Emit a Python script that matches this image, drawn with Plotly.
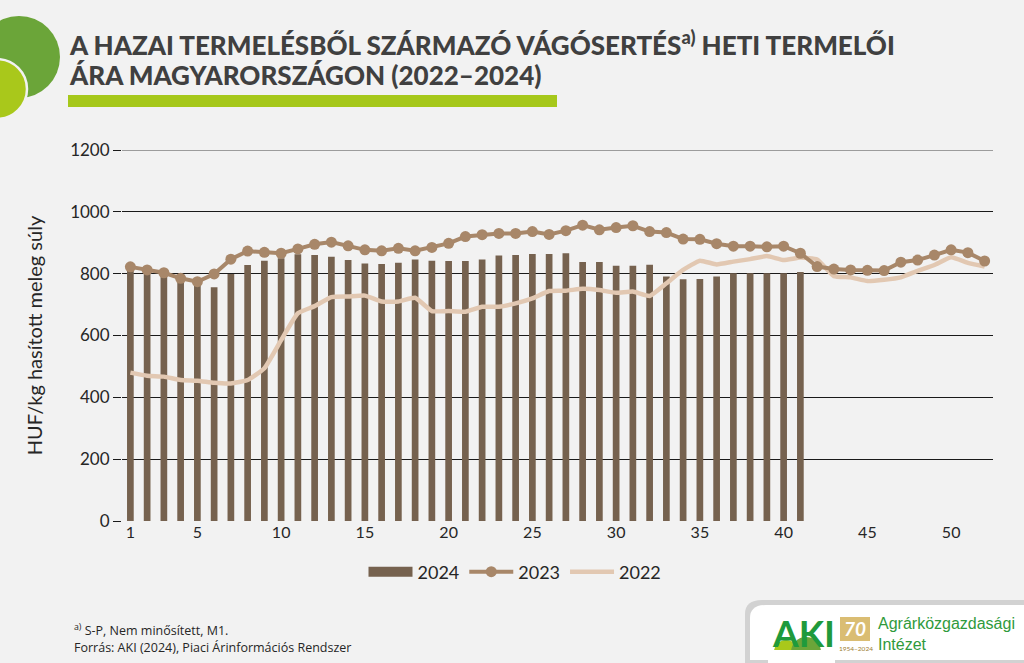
import plotly.graph_objects as go

# heti termelői ár, HUF/kg hasított meleg súly
weeks_2024 = list(range(1, 42))
price_2024 = [815, 806, 796, 786, 770, 756, 799, 828, 842, 850,
              863, 860, 855, 844, 833, 831, 835, 846, 842, 841,
              841, 846, 859, 860, 864, 864, 866, 838, 838, 826,
              826, 829, 791, 782, 783, 791, 801, 801, 801, 801,
              805]

weeks = list(range(1, 53))
price_2023 = [822, 812, 803, 785, 774, 799, 847, 873, 869, 866,
              880, 895, 902, 890, 877, 874, 882, 874, 885, 898,
              920, 926, 930, 930, 936, 927, 939, 957, 942, 949,
              955, 936, 933, 912, 911, 897, 889, 889, 887, 889,
              866, 823, 815, 812, 811, 810, 837, 844, 860, 877,
              868, 841]
price_2022 = [480, 470, 467, 456, 454, 447, 445, 456, 494, 585,
              672, 695, 724, 726, 729, 710, 710, 722, 679, 679,
              677, 693, 693, 704, 720, 744, 745, 751, 747, 738,
              742, 728, 769, 812, 842, 830, 839, 847, 857, 844,
              852, 846, 792, 788, 776, 780, 788, 809, 828, 853,
              835, 823]

x_ticks = [1, 5, 10, 15, 20, 25, 30, 35, 40, 45, 50]
y_ticks = [0, 200, 400, 600, 800, 1000, 1200]

BAR_C = "#76624f"
C2023 = "#a88769"
C2022 = "#e2c8b2"

# plot area in pixels
L, R, T, B = 122, 993, 150, 521


def px(x):
    return (x - L) / (R - L)


def py(y):
    return (B - y) / (B - T)


fig = go.Figure()

fig.add_trace(go.Bar(x=weeks_2024, y=price_2024, name="2024", showlegend=False,
                     marker=dict(color=BAR_C, line=dict(width=0)), width=0.4))
fig.add_trace(go.Scatter(x=weeks, y=price_2022, name="2022", mode="lines", legendrank=3,
                         line=dict(color=C2022, width=4.5, shape="spline", smoothing=0.4)))
fig.add_trace(go.Scatter(x=weeks, y=price_2023, name="2023", mode="lines+markers", legendrank=2,
                         line=dict(color=C2023, width=4),
                         marker=dict(color=C2023, size=11)))
# legend-only entry so the 2024 swatch is a wide block like the original
fig.add_trace(go.Scatter(x=[None], y=[None], name="2024", mode="lines", legendrank=1,
                         line=dict(color=BAR_C, width=12)))

shapes = []
# top grid line drawn lighter
shapes.append(dict(type="line", xref="paper", yref="y", x0=0, x1=1, y0=1200, y1=1200,
                   line=dict(color="#7f7f7f", width=1.5)))


def circle(cx, cy, r, color, line_color=None, lw=0):
    return dict(type="circle", xref="paper", yref="paper",
                x0=px(cx - r), x1=px(cx + r), y0=py(cy + r), y1=py(cy - r),
                fillcolor=color, line=dict(color=line_color or color, width=lw),
                layer="above")


# green circles top-left
shapes.append(circle(19, 57, 41, "#6ba539"))
shapes.append(circle(-3, 89, 30, "#a9c81b", "#f2f2f2", 2.5))
# green bar under title
shapes.append(dict(type="rect", xref="paper", yref="paper",
                   x0=px(68), x1=px(557), y0=py(107), y1=py(95),
                   fillcolor="#a6c81b", line=dict(width=0)))
# logo box with shadow
shapes.append(dict(type="path", xref="paper", yref="paper",
                   path=f"M {px(745)},{py(663)} L {px(745)},{py(614)} Q {px(745)},{py(600)} {px(762)},{py(600)} "
                        f"L {px(1030)},{py(600)} L {px(1030)},{py(663)} Z",
                   fillcolor="#d2d2d2", line=dict(width=0)))
shapes.append(dict(type="path", xref="paper", yref="paper",
                   path=f"M {px(750)},{py(660)} L {px(750)},{py(618)} Q {px(750)},{py(605)} {px(766)},{py(605)} "
                        f"L {px(1030)},{py(605)} L {px(1030)},{py(660)} Z",
                   fillcolor="#ffffff", line=dict(width=0)))
# AKI logo hills + 70 emblem
shapes.append(circle(786, 652, 12, "#a9c81b"))
shapes.append(circle(806, 652, 15, "#6ba539"))
shapes.append(dict(type="rect", xref="paper", yref="paper",
                   x0=px(768), x1=px(835), y0=py(663), y1=py(650),
                   fillcolor="#ffffff", line=dict(width=0)))
shapes.append(dict(type="rect", xref="paper", yref="paper",
                   x0=px(840), x1=px(870), y0=py(641), y1=py(617),
                   fillcolor="#d4b25a", line=dict(width=0), opacity=0.85))

title_font = dict(family="Lato", size=26, color="#404040", weight=900)
annotations = [
    dict(x=px(67), y=py(44), xref="paper", yref="paper", xanchor="left", yanchor="middle",
         align="left", showarrow=False,
         text="A HAZAI TERMELÉSBŐL SZÁRMAZÓ VÁGÓSERTÉS<sup>a)</sup> HETI TERMELŐI",
         font=title_font),
    dict(x=px(67), y=py(75), xref="paper", yref="paper", xanchor="left", yanchor="middle",
         align="left", showarrow=False,
         text="ÁRA MAGYARORSZÁGON (2022–2024)",
         font=title_font),
    dict(x=px(72), y=py(619), xref="paper", yref="paper", xanchor="left", yanchor="top",
         align="left", showarrow=False,
         text="<sup>a)</sup> S-P, Nem minősített, M1.<br>Forrás: AKI (2024), Piaci Árinformációs Rendszer",
         font=dict(family="Open Sans", size=12.5, color="#262626")),
    dict(x=px(770), y=py(632), xref="paper", yref="paper", xanchor="left", yanchor="middle",
         showarrow=False, text="<b>AKI</b>",
         font=dict(family="Lato", size=37, color="#1f9a3c", weight=900)),
    dict(x=px(855), y=py(628), xref="paper", yref="paper", xanchor="center", yanchor="middle",
         showarrow=False, text="<i><b>70</b></i>",
         font=dict(family="Lato", size=19, color="#ffffff")),
    dict(x=px(856), y=py(648), xref="paper", yref="paper", xanchor="center", yanchor="middle",
         showarrow=False, text="1954–2024",
         font=dict(family="Lato", size=6.5, color="#9a7b2e")),
    dict(x=px(876), y=py(634), xref="paper", yref="paper", xanchor="left", yanchor="middle",
         align="left", showarrow=False, text="Agrárközgazdasági<br>Intézet",
         font=dict(family="Liberation Sans", size=16, color="#2f9a3c")),
]

fig.update_layout(
    width=1024, height=663,
    margin=dict(l=L, r=1024 - R, t=T, b=663 - B, pad=0),
    paper_bgcolor="#f2f2f2", plot_bgcolor="#f2f2f2",
    font=dict(family="Lato", color="#404040", size=15),
    barmode="overlay",
    xaxis=dict(range=[0.5, 52.5], tickvals=x_ticks, showgrid=False, zeroline=False,
               showline=False, ticks="", tickfont=dict(size=16, color="#262626")),
    yaxis=dict(range=[0, 1200], tickvals=y_ticks, showgrid=True, gridcolor="#1a1a1a",
               gridwidth=1, zeroline=False, showline=False, ticks="outside", ticklen=8,
               tickcolor="#1a1a1a", tickfont=dict(size=17, color="#262626"),
               title=dict(text="HUF/kg hasított meleg súly", standoff=22,
                          font=dict(size=20, color="#262626"))),
    legend=dict(orientation="h", x=px(515), xanchor="center", y=py(572), yanchor="middle",
                traceorder="normal", font=dict(size=18, color="#262626"),
                bgcolor="rgba(0,0,0,0)", itemwidth=44),
    shapes=shapes,
    annotations=annotations,
)

fig.write_html("out.html", config={"displayModeBar": False},
               post_script="document.body.style.margin='0';")
